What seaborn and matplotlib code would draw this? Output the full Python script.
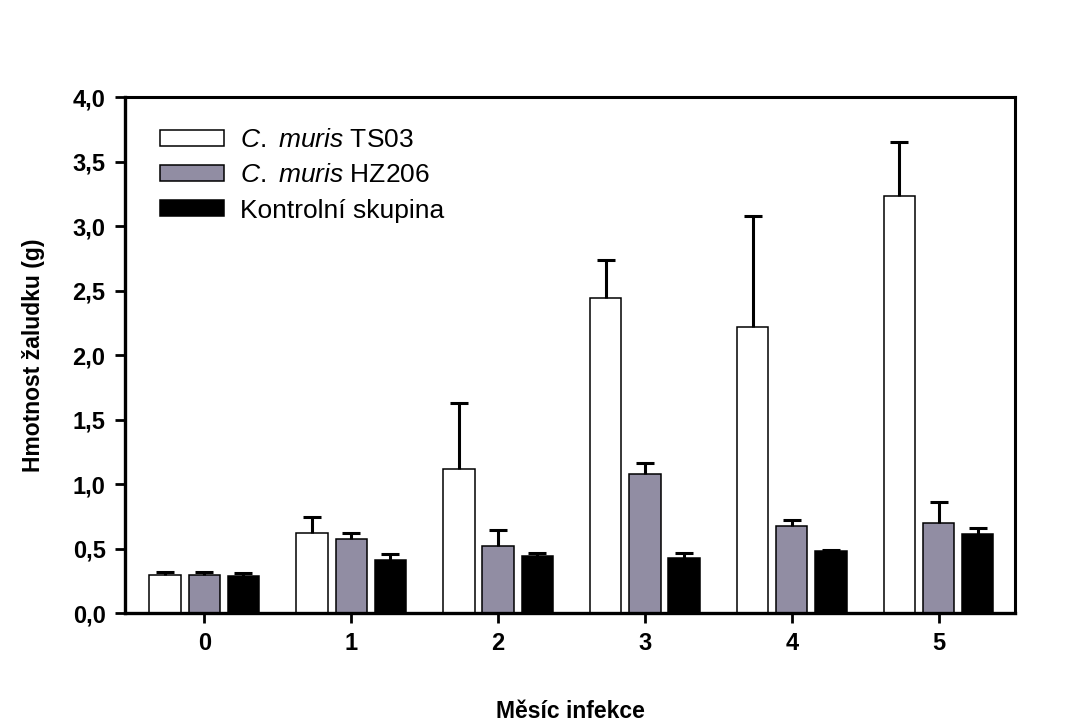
import numpy as np
import pandas as pd
import matplotlib
matplotlib.use("Agg")
import matplotlib.pyplot as plt
import seaborn as sns

months = ["0", "1", "2", "3", "4", "5"]
groups = ["TS03", "HZ206", "Kontrola"]
legend_labels = [r"$\it{C.}$ $\it{muris}$ TS03", r"$\it{C.}$ $\it{muris}$ HZ206", "Kontrolní skupina"]

ts03 = [0.295, 0.62, 1.115, 2.445, 2.22, 3.235]
ts03_err = [0.02, 0.125, 0.515, 0.295, 0.86, 0.42]
hz206 = [0.295, 0.57, 0.52, 1.077, 0.672, 0.70]
hz206_err = [0.02, 0.05, 0.12, 0.085, 0.05, 0.158]
kontrola = [0.29, 0.41, 0.44, 0.426, 0.483, 0.61]
kontrola_err = [0.02, 0.05, 0.025, 0.037, 0.004, 0.047]

colors = ["#ffffff", "#8e8aa6", "#000000"]

df = pd.DataFrame({
    "mesic": months * 3,
    "skupina": np.repeat(groups, len(months)),
    "hmotnost": ts03 + hz206 + kontrola,
})
errs = [ts03_err, hz206_err, kontrola_err]

sns.set_style("ticks")
plt.rcParams["font.family"] = ["Liberation Sans", "DejaVu Sans"]
plt.rcParams["mathtext.fontset"] = "custom"
plt.rcParams["mathtext.it"] = "Liberation Sans:italic"
plt.rcParams["mathtext.rm"] = "Liberation Sans"
for key in ["text.color", "axes.labelcolor", "xtick.color", "ytick.color", "axes.edgecolor"]:
    plt.rcParams[key] = "black"

fig = plt.figure(figsize=(10.89, 7.24), dpi=100)
ax = fig.add_axes([0.1148, 0.1533, 0.8172, 0.7127])

sns.barplot(data=df, x="mesic", y="hmotnost", hue="skupina", palette=colors,
            edgecolor="black", linewidth=1.1, gap=0.2, legend=False, ax=ax)

bar_containers = list(ax.containers)
for cont, err in zip(bar_containers, errs):
    xs = [p.get_x() + p.get_width() / 2 for p in cont.patches]
    hs = [p.get_height() for p in cont.patches]
    eb = ax.errorbar(xs, hs, yerr=[np.zeros(len(err)), err], fmt="none",
                     ecolor="black", elinewidth=2.2, capsize=6.5, capthick=2.2, zorder=3)
    eb[1][0].set_visible(False)  # hide the lower cap sitting on the bar top

ax.set_ylim(0, 4.0)
ax.set_xlim(-0.54, 5.52)
ax.set_yticks(np.arange(0, 4.01, 0.5))
ax.set_yticklabels([f"{v:.1f}".replace(".", ",") for v in np.arange(0, 4.01, 0.5)])

for s in ax.spines.values():
    s.set_linewidth(2.2)
    s.set_visible(True)
ax.spines["left"].set_linewidth(2.4)
ax.spines["bottom"].set_linewidth(2.4)

ax.tick_params(axis="both", direction="out", length=7, width=2, labelsize=17, pad=7)
for lbl in ax.get_xticklabels() + ax.get_yticklabels():
    lbl.set_fontweight("bold")

ax.set_xlabel("Měsíc infekce", fontsize=16.5, fontweight="bold", labelpad=32)
ax.set_ylabel("Hmotnost žaludku (g)", fontsize=16.5, fontweight="bold", labelpad=20)

ax.legend(handles=[c.patches[0] for c in bar_containers], labels=legend_labels,
          loc="upper left", frameon=False, fontsize=19, handlelength=2.45,
          handleheight=0.55, labelspacing=0.42, handletextpad=0.6,
          bbox_to_anchor=(0.018, 0.975), borderaxespad=0.3)

fig.savefig("out.png", dpi=100)
